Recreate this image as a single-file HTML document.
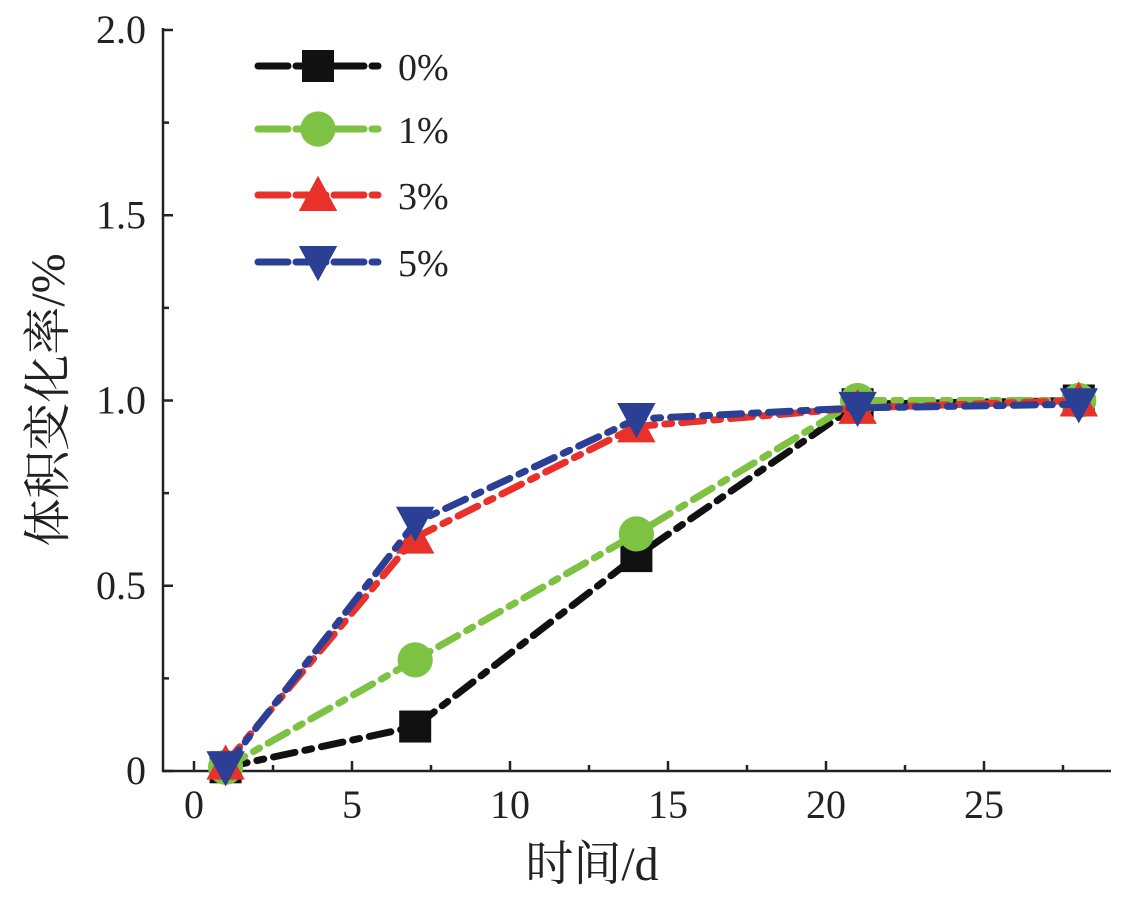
<!DOCTYPE html>
<html><head><meta charset="utf-8"><style>
html,body{margin:0;padding:0;background:#fff;}
svg{display:block;font-family:"Liberation Serif","Noto Serif CJK SC",serif;}
</style></head><body>
<svg id="chart" width="1128" height="905" viewBox="0 0 1128 905" xmlns="http://www.w3.org/2000/svg">
<g id="axes"></g>
<g id="series"></g>
<g id="legend"></g>
<text transform="translate(64,400) rotate(-90)" text-anchor="middle" font-size="48" fill="#222">体积变化率/%</text>
<text x="592" y="880" text-anchor="middle" font-size="48" fill="#222">时间/d</text>
</svg>
<script>
const days = [1, 7, 14, 21, 28];
const s0 = [0.01, 0.12, 0.58, 0.99, 1.0];
const s1 = [0.01, 0.30, 0.64, 1.0, 1.0];
const s3 = [0.02, 0.63, 0.93, 0.98, 1.0];
const s5 = [0.01, 0.67, 0.95, 0.98, 0.99];
const seriesNames = ["0%", "1%", "3%", "5%"];
const xTicks = [0, 5, 10, 15, 20, 25];
const yTicks = [0, 0.5, 1.0, 1.5, 2.0];
const yTickLabels = ["0", "0.5", "1.0", "1.5", "2.0"];

const NS = "http://www.w3.org/2000/svg";
const X = v => 194 + v * 31.6;
const Y = v => 771 - v * 370.5;
function mk(tag, attrs, parent) {
  const e = document.createElementNS(NS, tag);
  for (const k in attrs) e.setAttribute(k, attrs[k]);
  parent.appendChild(e);
  return e;
}
const axes = document.getElementById('axes');
let a = mk('line', {x1:163, y1:28, x2:163, y2:772, stroke:'#222', 'stroke-width':2.5}, axes);


a = mk('line', {x1:162, y1:771, x2:1111, y2:771, stroke:'#222', 'stroke-width':2.5}, axes);


for (let v = 0; v <= 2.0001; v += 0.25) {
  const major = Math.abs(v * 2 - Math.round(v * 2)) < 1e-6;
  const t = mk('line', {x1:163, x2:163 + (major ? 10 : 6), y1:Y(v), y2:Y(v), stroke:'#222', 'stroke-width':2.5}, axes);
  
  
}
yTicks.forEach((v, i) => {
  const t = mk('text', {x:146, y:Y(v) + 13, 'text-anchor':'end', 'font-size':40, fill:'#222'}, axes);
  t.textContent = yTickLabels[i];
  
  
});
for (let v = 0; v <= 28.5; v += 2.5) {
  const major = Math.abs(v / 5 - Math.round(v / 5)) < 1e-6;
  const t = mk('line', {x1:X(v), x2:X(v), y1:771, y2:771 - (major ? 10 : 6), stroke:'#222', 'stroke-width':2.5}, axes);
  
  
}
xTicks.forEach(v => {
  const t = mk('text', {x:X(v), y:818, 'text-anchor':'middle', 'font-size':40, fill:'#222'}, axes);
  t.textContent = String(v);
  
  
});

const colors = ['#111111', '#7dc242', '#e8312a', '#2b3f94'];
const allData = [s0, s1, s3, s5];
const shapes = ['square', 'circle', 'tri-up', 'tri-down'];
function marker(g, shape, cx, cy, color, r) {
  let m;
  if (shape === 'square') m = mk('rect', {x:cx - r, y:cy - r, width:2 * r, height:2 * r, fill:color}, g);
  else if (shape === 'circle') m = mk('circle', {cx:cx, cy:cy, r:r * 1.1, fill:color}, g);
  else if (shape === 'tri-up') m = mk('polygon', {points:`${cx},${cy - r * 1.2} ${cx - r * 1.2},${cy + r} ${cx + r * 1.2},${cy + r}`, fill:color}, g);
  else m = mk('polygon', {points:`${cx},${cy + r * 1.2} ${cx - r * 1.2},${cy - r} ${cx + r * 1.2},${cy - r}`, fill:color}, g);
  return m;
}
const sg = document.getElementById('series');
allData.forEach((d, i) => {
  const g = mk('g', {}, sg);
  
  
  const pts = days.map((x, j) => X(x) + ',' + Y(d[j])).join(' ');
  const l = mk('polyline', {points:pts, fill:'none', stroke:colors[i], 'stroke-width':7, 'stroke-dasharray':'22 10 7 10', 'stroke-linecap':'round'}, g);
  
  
  days.forEach((x, j) => {
    const m = marker(g, shapes[i], X(x), Y(d[j]), colors[i], 16);
    
    
  });
});
const lg = document.getElementById('legend');
const legendY = [66, 129, 195, 262];
seriesNames.forEach((n, i) => {
  const g = mk('g', {}, lg);
  
  
  mk('line', {x1:258, x2:378, y1:legendY[i], y2:legendY[i], stroke:colors[i], 'stroke-width':7, 'stroke-dasharray':'30 8', 'stroke-linecap':'round'}, g);
  marker(g, shapes[i], 318, legendY[i], colors[i], 16);
  const t = mk('text', {x:398, y:legendY[i] + 14, 'font-size':38, fill:'#222'}, g);
  t.textContent = n;
});
</script>
</body></html>
